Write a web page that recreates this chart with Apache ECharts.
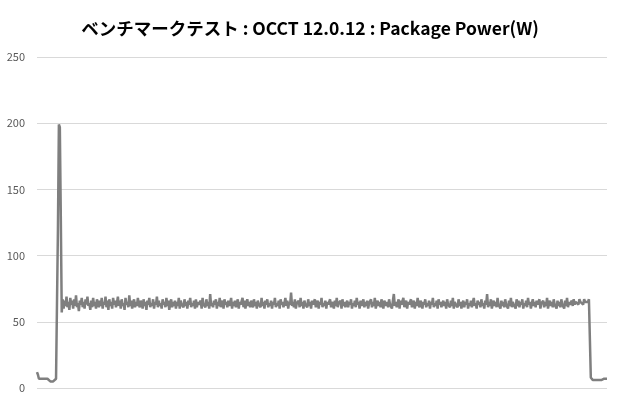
<!DOCTYPE html>
<html>
<head>
<meta charset="utf-8">
<script src="https://cdn.jsdelivr.net/npm/echarts@6/dist/echarts.min.js"></script>
<style>
html,body{margin:0;padding:0;background:#fff;}
#main{width:620px;height:410px;}
</style>
</head>
<body>
<div id="main"></div>
<script>
/********** データ ********** */
var chartTitle = "ベンチマークテスト : OCCT 12.0.12 : Package Power(W)";
var yTicks = [0, 50, 100, 150, 200, 250];

// 起動〜スパイク
var headValues = [
    12, 10, 7, 6, 6, 7, 6, 6, 7, 6, 8, 7, 6, 6, 5, 6, 6, 5, 6, 6,
    7, 8, 120, 199, 197, 130, 57
];
// 負荷中
var loadValues = [
    67, 60, 66, 62, 69, 61, 65, 59, 68, 63, 66, 60, 67, 62, 70, 61, 64, 58, 66, 63,
    68, 61, 65, 60, 67, 63, 69, 62, 64, 59, 66, 61, 68, 62, 65, 60, 67, 64, 61, 66,
    62, 68, 60, 65, 63, 69, 61, 66, 59, 67, 62, 65, 60, 68, 63, 66, 61, 64, 69, 62,
    66, 60, 67, 62, 64, 59, 68, 63, 65, 61, 70, 62, 66, 60, 64, 67, 61, 65, 62, 68,
    63, 61, 66, 64, 60, 67, 62, 65, 59, 66, 63, 68, 61, 64, 62, 67, 60, 65, 63, 69,
    61, 66, 62, 64, 60, 67, 63, 65, 61, 68, 62, 66, 59, 64, 67, 61, 65, 62, 66, 60,
    65, 62, 68, 60, 66, 63, 64, 61, 67, 62, 65, 60, 66, 63, 68, 61, 64, 62, 66, 60,
    67, 61, 65, 63, 62, 66, 60, 68, 63, 64, 61, 67, 62, 65, 60, 71, 62, 64, 61, 66,
    63, 67, 60, 65, 62, 68, 61, 64, 66, 60, 67, 63, 65, 61, 66, 62, 64, 68, 60, 65,
    62, 66, 61, 64, 67, 60, 65, 63, 62, 68, 61, 66, 60, 64, 67, 62, 65, 61, 66, 63,
    61, 67, 62, 65, 60, 66, 63, 64, 61, 68, 62, 65, 60, 66, 63, 67, 61, 64, 62, 66,
    60, 65, 63, 68, 61, 64, 62, 66, 60, 67, 63, 65, 61, 64, 68, 62, 66, 60, 65, 63,
    72, 62, 65, 61, 67, 60, 64, 63, 66, 61, 68, 62, 65, 60, 66, 63, 64, 61, 67, 62,
    65, 60, 66, 63, 62, 67, 61, 64, 66, 60, 65, 63, 68, 61, 64, 62, 66, 60, 65, 63,
    62, 67, 61, 65, 63, 60, 66, 62, 68, 61, 64, 63, 66, 60, 67, 62, 65, 61, 64, 66,
    61, 65, 63, 67, 60, 64, 62, 66, 61, 68, 63, 65, 60, 66, 62, 64, 67, 61, 65, 62,
    66, 60, 64, 63, 67, 61, 65, 62, 68, 60, 64, 66, 62, 65, 61, 67, 63, 60, 66, 64,
    62, 65, 61, 67, 63, 64, 60, 66, 71, 62, 65, 61, 64, 67, 60, 66, 63, 62, 68, 61,
    64, 66, 60, 65, 63, 62, 67, 61, 64, 66, 60, 65, 62, 68, 63, 61, 66, 64, 60, 65,
    63, 67, 61, 64, 62, 66, 60, 65, 63, 68, 61, 64, 62, 66, 60, 67, 63, 65, 61, 64,
    66, 62, 65, 60, 67, 63, 64, 61, 66, 62, 68, 60, 65, 63, 64, 61, 67, 62, 65, 60,
    64, 66, 61, 65, 63, 67, 60, 64, 62, 66, 61, 65, 68, 62, 64, 60, 66, 63, 65, 61,
    67, 62, 64, 60, 66, 63, 71, 61, 65, 62, 67, 60, 64, 66, 62, 65, 61, 68, 63, 64,
    60, 66, 62, 65, 61, 67, 63, 64, 60, 66, 62, 68, 61, 65, 63, 64, 60, 67, 62, 66,
    61, 65, 63, 67, 60, 64, 62, 66, 61, 68, 63, 65, 60, 64, 67, 62, 65, 61, 66, 63,
    62, 67, 60, 64, 63, 66, 61, 65, 62, 68, 60, 64, 66, 62, 65, 61, 67, 63, 64, 60,
    66, 62, 65, 61, 67, 63, 64, 60, 66, 62, 68, 61, 65, 63, 64, 66, 62, 67, 63, 65,
    64, 66, 63, 67, 65, 64, 66, 63, 67, 65, 64, 66, 65, 67, 66
];
// 終了後
var tailValues = [8, 7, 6, 7, 6, 6, 7, 6, 6, 7, 6, 6, 5, 6, 7, 6, 6, 7];

var powerValues = headValues.concat(loadValues, tailValues);
var timeLabels = [];
for (var i = 0; i < powerValues.length; i++) {
    timeLabels.push(String(i + 1));
}

/********** グラフ ********** */
var myChart = echarts.init(document.getElementById("main"));

var option = {
    animation: false,
    title: {
        text: chartTitle,
        left: "center",
        top: 15,
        textStyle: {
            fontFamily: "Noto Sans CJK JP",
            fontSize: 17.5,
            fontWeight: "bold",
            color: "#000"
        }
    },
    grid: {
        left: 37,
        right: 13,
        top: 57,
        bottom: 22
    },
    xAxis: {
        type: "category",
        data: timeLabels,
        boundaryGap: false,
        axisLine: {show: false},
        axisTick: {show: false},
        axisLabel: {show: false}
    },
    yAxis: {
        type: "value",
        min: yTicks[0],
        max: yTicks[yTicks.length - 1],
        interval: 50,
        axisLine: {show: false},
        axisTick: {show: false},
        axisLabel: {
            color: "#595959",
            fontSize: 11,
            margin: 12,
            fontFamily: "Noto Sans CJK JP"
        },
        splitLine: {
            lineStyle: {color: "#d9d9d9", width: 1}
        }
    },
    series: [
        {
            name: "Package Power",
            type: "line",
            data: powerValues,
            symbol: "none",
            lineStyle: {color: "#7f7f7f", width: 2.5},
            itemStyle: {color: "#7f7f7f"}
        }
    ]
};

myChart.setOption(option);
</script>
</body>
</html>
